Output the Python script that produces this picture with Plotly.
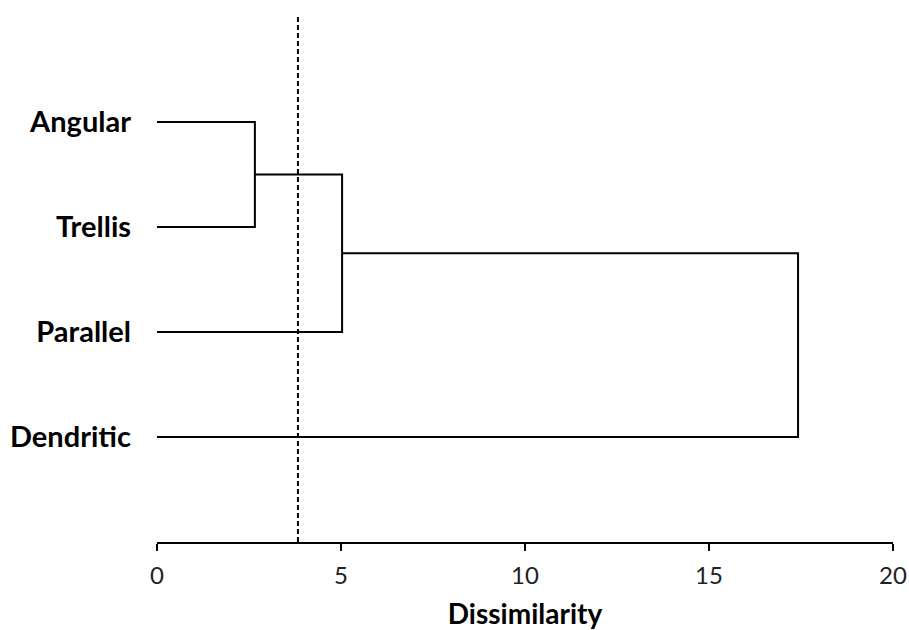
import plotly.graph_objects as go

# Data
leaves = ["Angular", "Trellis", "Parallel", "Dendritic"]
leaf_pos = [4, 3, 2, 1]
merge_left = ["Angular", "C1", "C2"]
merge_right = ["Trellis", "Parallel", "Dendritic"]
merge_names = ["C1", "C2", "C3"]
merge_heights = [2.66, 5.03, 17.42]
cut_threshold = 3.83
x_ticks = [0, 5, 10, 15, 20]

node_y = dict(zip(leaves, leaf_pos))
node_h = {n: 0.0 for n in leaves}

fig = go.Figure()
for a, b, name, h in zip(merge_left, merge_right, merge_names, merge_heights):
    ya, yb = node_y[a], node_y[b]
    xs = [node_h[a], h, h, node_h[b]]
    ys = [ya, ya, yb, yb]
    fig.add_trace(go.Scatter(x=xs, y=ys, mode="lines",
                             line=dict(color="black", width=2),
                             showlegend=False, hoverinfo="skip"))
    node_y[name] = (ya + yb) / 2
    node_h[name] = h

fig.add_trace(go.Scatter(x=[cut_threshold, cut_threshold], y=[0, 5.03], mode="lines",
                         line=dict(color="black", width=2, dash="5px,3px"),
                         showlegend=False, hoverinfo="skip"))

fig.update_layout(
    width=909, height=630,
    margin=dict(l=157, r=16, t=14, b=88),
    plot_bgcolor="white", paper_bgcolor="white",
    font=dict(family="Lato, Open Sans, sans-serif", color="black"),
    xaxis=dict(range=[0, 20], tickvals=x_ticks, showline=True, linecolor="black",
               linewidth=2, ticks="outside", ticklen=7, tickwidth=2, tickcolor="black",
               showgrid=False, zeroline=False, tickfont=dict(size=24, color="#222"),
               ticklabelstandoff=4, automargin=False,
               title=dict(text="<b>Dissimilarity</b>", font=dict(size=28), standoff=19)),
    yaxis=dict(range=[0, 5.03], tickvals=leaf_pos, ticktext=["<b>%s</b>" % l for l in leaves],
               showline=False, showgrid=False, zeroline=False, ticks="", automargin=False,
               tickfont=dict(size=29), ticklabelstandoff=25),
)

fig.write_html("out.html", config={"displayModeBar": False},
               post_script="document.body.style.margin='0';document.body.style.overflow='hidden';")
